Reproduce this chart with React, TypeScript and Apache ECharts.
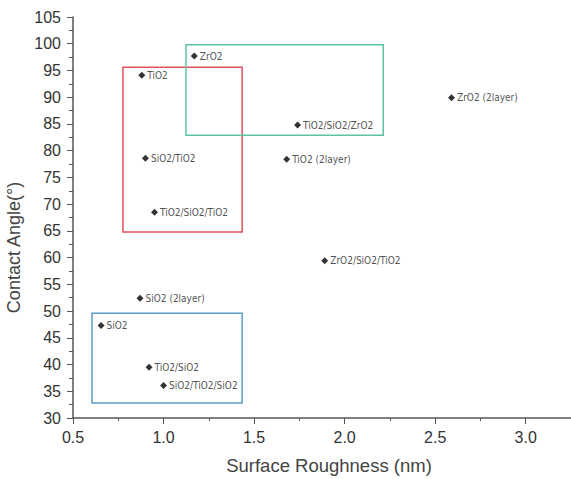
import React, { useEffect, useRef } from "react";
import * as echarts from "echarts";

const labels = [
  "ZrO2", "TiO2", "SiO2/TiO2", "TiO2/SiO2/TiO2", "TiO2/SiO2/ZrO2", "TiO2 (2layer)",
  "ZrO2 (2layer)", "ZrO2/SiO2/TiO2", "SiO2 (2layer)", "SiO2", "TiO2/SiO2", "SiO2/TiO2/SiO2",
];
const roughness = [1.17, 0.88, 0.9, 0.95, 1.74, 1.68, 2.59, 1.89, 0.87, 0.655, 0.92, 1.0];
const contactAngle = [97.7, 94.1, 78.6, 68.5, 84.8, 78.4, 89.9, 59.4, 52.4, 47.3, 39.5, 36.1];

const boxNames = ["red", "green", "blue"];
const boxX0 = [0.776, 1.124, 0.605];
const boxX1 = [1.434, 2.213, 1.434];
const boxY0 = [64.8, 82.9, 32.8];
const boxY1 = [95.6, 99.8, 49.6];
const boxColors = ["#e4505c", "#5cc4a0", "#5a9cc6"];

export default function App() {
  const ref = useRef<HTMLDivElement>(null);
  useEffect(() => {
    const chart = echarts.init(ref.current!, null, { renderer: "svg" });
    const axisText = { color: "#333", fontSize: 16, fontFamily: "Liberation Sans, Arial, sans-serif" };
    chart.setOption({
      animation: false,
      backgroundColor: "#fff",
      grid: { left: 73, right: 0, top: 17, bottom: 61, outerBoundsMode: "none", containLabel: false },
      xAxis: {
        type: "value",
        min: 0.5,
        max: 3.25,
        interval: 0.5,
        name: "Surface Roughness (nm)",
        nameLocation: "middle",
        nameGap: 38,
        nameTextStyle: { color: "#444", fontSize: 18.5, padding: [0, 0, 0, 14], fontFamily: "Liberation Sans, Arial, sans-serif" },
        axisLine: { lineStyle: { color: "#555", width: 1.5 } },
        axisTick: { show: true, length: 6, lineStyle: { color: "#555" } },
        minorTick: { show: true, splitNumber: 2, length: 3, lineStyle: { color: "#555" } },
        axisLabel: { ...axisText, margin: 11, showMaxLabel: false, formatter: (v: number) => v.toFixed(1) },
        splitLine: { show: false },
      },
      yAxis: {
        type: "value",
        min: 30,
        max: 105,
        interval: 5,
        name: "Contact Angle(°)",
        nameLocation: "middle",
        nameGap: 43,
        nameTextStyle: { color: "#444", fontSize: 18, padding: [0, 60, 0, 0], fontFamily: "Liberation Sans, Arial, sans-serif" },
        axisLine: { show: true, lineStyle: { color: "#555", width: 1.5 } },
        axisTick: { show: true, length: 6, lineStyle: { color: "#555" } },
        minorTick: { show: true, splitNumber: 2, length: 4, lineStyle: { color: "#555" } },
        axisLabel: { ...axisText, margin: 12 },
        splitLine: { show: false },
      },
      series: [
        {
          type: "scatter",
          symbol: "diamond",
          symbolSize: 7,
          itemStyle: { color: "#000" },
          data: roughness.map((x, i) => ({ value: [x, contactAngle[i]], name: labels[i] })),
          label: {
            show: true,
            position: "right",
            distance: 2,
            formatter: (p: any) => p.name,
            color: "#222",
            fontSize: 10,
            fontFamily: "Liberation Sans Narrow, DejaVu Sans Condensed, sans-serif",
          },
          markArea: {
            silent: true,
            data: boxNames.map((n, i) => [
              { name: "", coord: [boxX0[i], boxY1[i]], itemStyle: { color: "rgba(0,0,0,0)", borderColor: boxColors[i], borderWidth: 1.5 } },
              { coord: [boxX1[i], boxY0[i]] },
            ]),
          },
        },
      ],
    });
    return () => chart.dispose();
  }, []);
  return <div ref={ref} style={{ position: "fixed", left: 0, top: 0, width: 571, height: 479 }} />;
}
